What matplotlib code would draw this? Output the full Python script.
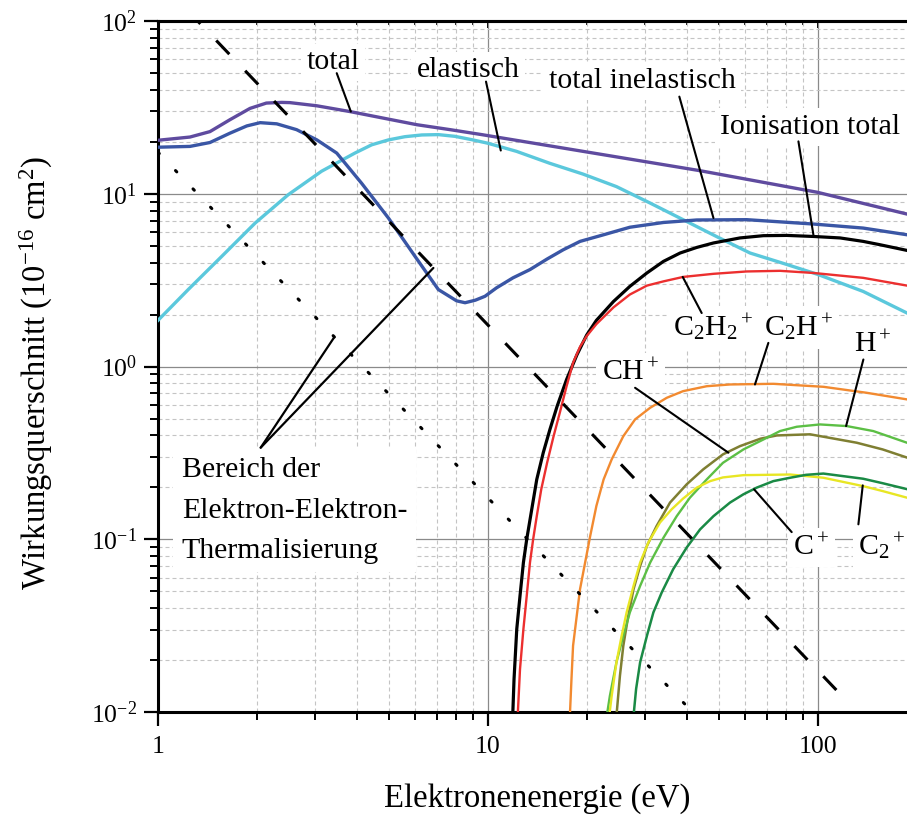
import matplotlib
matplotlib.use("Agg")
import matplotlib.pyplot as plt
import numpy as np
from matplotlib.ticker import FuncFormatter, LogLocator, NullFormatter

# Wirkungsquerschnitte (10^-16 cm^2) über Elektronenenergie (eV)
total_E = [1.0, 1.25, 1.437, 1.65, 1.90, 2.13, 2.37, 2.51, 3.03, 3.82, 4.82, 6.09, 7.68, 9.57,
           19.4, 43.9, 99.5, 186]
total_s = [20.4, 21.3, 22.9, 26.8, 31.2, 33.5, 33.8, 33.7, 32.3, 29.9, 27.4, 25.1, 23.5, 22.0,
           17.6, 13.6, 10.2, 7.63]

inel_E = [1.0, 1.25, 1.437, 1.65, 1.858, 2.04, 2.29, 2.63, 3.03, 3.48, 4.14, 4.99, 6.01, 7.07,
          8.03, 8.52, 9.15, 9.79, 10.6, 11.9, 13.4, 15.1, 16.9, 19.0, 22.4, 26.9, 34.0, 42.9,
          60.8, 96.8, 137, 186]
inel_s = [18.6, 18.8, 19.8, 22.4, 24.7, 25.8, 25.4, 23.5, 20.5, 17.2, 11.5, 7.24, 4.34, 2.79,
          2.40, 2.34, 2.42, 2.55, 2.85, 3.26, 3.64, 4.19, 4.74, 5.30, 5.79, 6.40, 6.82, 7.05,
          7.08, 6.68, 6.33, 5.79]

elast_E = [1.0, 1.235, 1.56, 1.97, 2.48, 3.13, 3.95, 4.44, 4.99, 5.60, 6.30, 7.07, 7.94, 9.0,
           10.0, 12.2, 15.4, 19.4, 24.5, 31.0, 39.0, 49.1, 62.2, 78.6, 99.5, 137, 186]
elast_s = [1.85, 2.79, 4.34, 6.77, 9.87, 13.5, 17.2, 19.2, 20.5, 21.4, 21.9, 22.0, 21.5, 20.5,
           19.6, 17.6, 15.0, 13.0, 11.0, 8.83, 7.08, 5.67, 4.54, 3.95, 3.42, 2.72, 2.04]

ion_E = [11.88, 11.99, 12.22, 12.5, 12.8, 13.1, 14.05, 14.7, 15.4, 16.2, 17.3, 18.6, 19.9,
         21.3, 24.0, 26.9, 30.3, 34.0, 38.2, 42.9, 48.2, 58.0, 68.3, 80.4, 96.8, 116.6, 137,
         154, 186]
ion_s = [0.0095, 0.0155, 0.0302, 0.047, 0.0733, 0.1, 0.222, 0.317, 0.432, 0.590, 0.841, 1.17,
         1.52, 1.85, 2.38, 2.91, 3.48, 4.06, 4.54, 4.89, 5.19, 5.55, 5.72, 5.74, 5.66, 5.55,
         5.30, 5.07, 4.70]

c2h2_E = [12.3, 12.5, 12.8, 13.1, 13.4, 13.7, 14.05, 14.5, 15.1, 15.8, 16.5, 17.3, 18.1, 19.0,
          19.9, 21.3, 24.0, 26.9, 30.3, 34.0, 39.0, 48.2, 60.8, 76.7, 96.8, 137, 186]
c2h2_s = [0.0095, 0.0177, 0.0302, 0.047, 0.0733, 0.1, 0.136, 0.195, 0.277, 0.395, 0.540, 0.77,
          1.05, 1.30, 1.50, 1.76, 2.20, 2.61, 2.94, 3.11, 3.30, 3.44, 3.55, 3.58, 3.48, 3.26, 2.94]

c2h_E = [17.7, 17.9, 18.1, 19.0, 20.4, 21.3, 22.4, 23.7, 25.7, 27.9, 31.0, 34.8, 39.0, 46.0,
         54.1, 73.2, 103.8, 140, 186]
c2h_s = [0.0095, 0.0155, 0.0242, 0.0514, 0.1045, 0.156, 0.222, 0.290, 0.395, 0.494, 0.577,
         0.659, 0.720, 0.769, 0.787, 0.794, 0.763, 0.705, 0.645]

h_E = [22.9, 23.4, 24.5, 25.7, 26.9, 28.9, 31.0, 34.0, 37.3, 40.9, 46.0, 51.5, 59.4, 68.3,
       76.7, 86.2, 101.4, 122.2, 147, 186]
h_s = [0.0095, 0.0124, 0.0194, 0.0276, 0.0377, 0.0537, 0.0733, 0.102, 0.136, 0.174, 0.222,
       0.277, 0.331, 0.378, 0.423, 0.448, 0.462, 0.452, 0.423, 0.362]

ch_E = [24.5, 25.1, 25.7, 26.6, 27.6, 28.9, 30.3, 32.4, 35.6, 40.0, 44.9, 51.5, 58.0, 66.9,
        75.0, 94.6, 131, 157, 186]
ch_s = [0.0095, 0.0162, 0.0242, 0.036, 0.0514, 0.070, 0.0915, 0.119, 0.163, 0.208, 0.254,
        0.310, 0.346, 0.382, 0.399, 0.405, 0.362, 0.331, 0.297]

c_E = [23.3, 23.7, 24.5, 25.4, 26.3, 27.6, 28.9, 30.6, 33.2, 36.0, 39.0, 42.9, 47.1, 51.5,
       59.4, 82.3, 103.8, 137, 157, 186]
c_s = [0.0095, 0.0124, 0.0194, 0.0276, 0.0377, 0.0537, 0.0733, 0.0957, 0.125, 0.149, 0.172,
       0.199, 0.217, 0.228, 0.235, 0.237, 0.227, 0.203, 0.190, 0.174]

c2_E = [27.6, 28.1, 28.9, 30.3, 31.7, 33.6, 36.4, 40.0, 43.9, 48.2, 54.1, 59.4, 65.2, 73.2,
        82.3, 92.0, 103.8, 137, 157, 186]
c2_s = [0.0095, 0.0136, 0.0194, 0.0276, 0.0377, 0.0492, 0.0671, 0.0896, 0.114, 0.136, 0.163,
        0.182, 0.199, 0.217, 0.227, 0.236, 0.240, 0.224, 0.211, 0.195]

# Elektron-Elektron-Thermalisierung (Geraden ~ E^-2 im log-log)
therm1_E = [1.319, 121.6]
therm1_s = [100.0, 0.0117]
therm2_E = [1.0, 39.5]
therm2_s = [17.4, 0.0111]

plt.rcParams['font.family'] = 'Liberation Serif'
plt.rcParams['mathtext.fontset'] = 'custom'
plt.rcParams['mathtext.rm'] = 'Liberation Serif'
plt.rcParams['mathtext.it'] = 'Liberation Serif:italic'
plt.rcParams['mathtext.default'] = 'regular'
plt.rcParams['axes.unicode_minus'] = False

fig = plt.figure(figsize=(9.07, 8.18), dpi=100)
ax = fig.add_axes([0.1742, 0.1296, 0.8258, 0.8447])
ax.set_xscale('log')
ax.set_yscale('log')
ax.set_xlim(1, 186)
ax.set_ylim(0.01, 100)
ax.set_axisbelow(True)

kw = dict(zorder=3, solid_joinstyle='round')
ax.plot(elast_E, elast_s, color='#5bc8dc', lw=2.4, **kw)
ax.plot(total_E, total_s, color='#5f4b9f', lw=2.4, **kw)
ax.plot(inel_E, inel_s, color='#3a56a5', lw=2.4, **kw)
ax.plot(ion_E, ion_s, color='black', lw=2.3, **kw)
ax.plot(c2h2_E, c2h2_s, color='#ec2f2f', lw=1.7, **kw)
ax.plot(c2h_E, c2h_s, color='#f28a30', lw=1.7, **kw)
ax.plot(ch_E, ch_s, color='#7f7f32', lw=1.8, **kw)
ax.plot(h_E, h_s, color='#5cbf45', lw=1.7, **kw)
ax.plot(c_E, c_s, color='#e8e624', lw=1.7, **kw)
ax.plot(c2_E, c2_s, color='#1a8a45', lw=1.8, **kw)

ax.plot(therm1_E, therm1_s, color='black', lw=2.2, ls=(4.9, (6.2, 7.5)),
        dash_capstyle='butt', zorder=4)
ax.plot(therm2_E, therm2_s, color='black', lw=2.2, ls=(0, (0.6, 7.7)),
        dash_capstyle='round', zorder=4)

# Beschriftungen mit Hinweislinien
box = dict(facecolor='white', edgecolor='none', pad=4)
labels = [
    ('total', 3.39, 52.6, 'center', [(3.48, 49.9), (3.84, 29.9)]),
    ('elastisch', 8.71, 47.3, 'center', [(9.86, 44.6), (10.93, 17.8)]),
    ('total inelastisch', 29.3, 40.8, 'center', [(37.99, 36.5), (48.2, 7.24)]),
    ('Ionisation total', 94.8, 22.2, 'center', [(87.2, 20.1), (96.8, 5.79)]),
    (r'$C_2H_2{}^+$', 36.4, 1.50, 'left', [(38.9, 3.30), (44.4, 2.04)]),
    (r'$C_2H^+$', 68.6, 1.50, 'left', [(70.7, 1.37), (64.4, 0.787)]),
    (r'$H^+$', 128.5, 1.21, 'left', [(137.2, 1.098), (121.6, 0.452)]),
    (r'$CH^+$', 22.1, 0.833, 'left', [(27.9, 0.753), (53.5, 0.317)]),
    (r'$C^+$', 84.2, 0.0811, 'left', [(83.2, 0.110), (64.0, 0.1945)]),
    (r'$C_2{}^+$', 132.5, 0.0811, 'left', [(132.5, 0.122), (136.6, 0.205)]),
]
for txt, x, y, ha, seg in labels:
    ax.text(x, y, txt, fontsize=21.5, ha=ha, va='baseline', bbox=box, zorder=1.5)
    (x0, y0), (x1, y1) = seg
    ax.plot([x0, x1], [y0, y1], color='black', lw=1.5, solid_capstyle='round', zorder=5)

ax.text(1.18, 0.298, 'Bereich der\nElektron-Elektron-\nThermalisierung', fontsize=21.5,
        ha='left', va='top', linespacing=1.71,
        bbox=dict(facecolor='white', edgecolor='none', pad=6), zorder=1.5)
for x1, y1 in [(3.42, 1.477), (6.83, 3.72)]:
    ax.plot([2.047, x1], [0.339, y1], color='black', lw=1.6, solid_capstyle='round', zorder=5)

# Achsen, Gitter, Ticks
ax.grid(which='major', color='#8a8a8a', lw=0.9, ls='-')
ax.grid(which='minor', color='#c4c4c4', lw=0.8, ls=(0, (3.6, 2.7)))
ax.xaxis.set_major_locator(LogLocator(base=10))
ax.xaxis.set_minor_locator(LogLocator(base=10, subs=np.arange(2, 10)))
ax.yaxis.set_major_locator(LogLocator(base=10))
ax.yaxis.set_minor_locator(LogLocator(base=10, subs=np.arange(2, 10)))
ax.xaxis.set_major_formatter(FuncFormatter(lambda v, p: '%g' % v))
ax.yaxis.set_major_formatter(FuncFormatter(lambda v, p: r'$10^{%d}$' % round(np.log10(v))))
ax.xaxis.set_minor_formatter(NullFormatter())
ax.yaxis.set_minor_formatter(NullFormatter())
ax.tick_params(which='major', direction='out', length=10, width=1.6, labelsize=18.5, pad=5,
               top=False, right=False)
ax.tick_params(which='minor', direction='out', length=5.5, width=1.4, top=False, right=False)
ax.tick_params(axis='x', which='major', pad=7)

for side in ['left', 'bottom', 'top']:
    ax.spines[side].set_linewidth(2.2)
ax.spines['right'].set_visible(False)

sec = ax.secondary_xaxis('top')
sec.xaxis.set_minor_locator(LogLocator(base=10, subs=np.arange(2, 10)))
sec.xaxis.set_major_formatter(NullFormatter())
sec.xaxis.set_minor_formatter(NullFormatter())
sec.tick_params(which='major', direction='in', length=5, width=1.4)
sec.tick_params(which='minor', direction='in', length=3, width=1.2)
sec.spines['top'].set_linewidth(2.2)

ax.set_xlabel('Elektronenenergie (eV)', fontsize=23.5)
ax.set_ylabel(r'Wirkungsquerschnitt (10$^{-16}$ cm$^{2}$)', fontsize=23.5)
ax.xaxis.set_label_coords(0.5067, -0.103)
ax.yaxis.set_label_coords(-0.137, 0.49)

fig.savefig('out.png', dpi=100)
